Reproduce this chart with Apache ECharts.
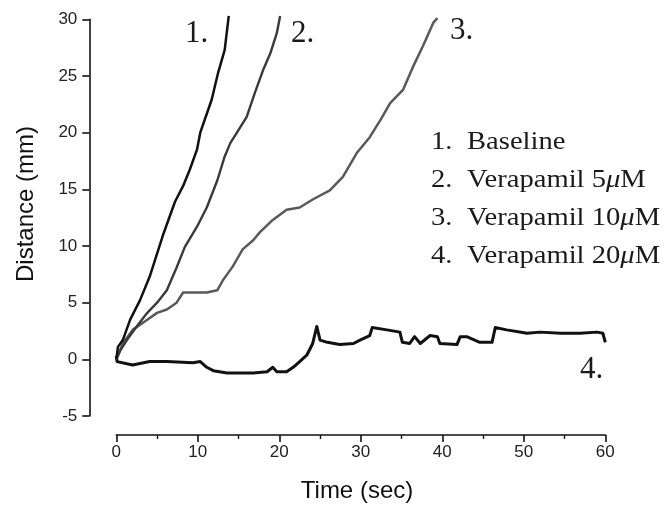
<!DOCTYPE html>
<html>
<head>
<meta charset="utf-8">
<script src="https://cdn.jsdelivr.net/npm/echarts@6/dist/echarts.min.js"></script>
<style>
html,body{margin:0;padding:0;background:#fff;}
#chart{width:668px;height:508px;}
</style>
</head>
<body>
<div id="chart"></div>
<script>
// ---- data ----
var xTicks = [0, 10, 20, 30, 40, 50, 60];
var yTicks = [-5, 0, 5, 10, 15, 20, 25, 30];

var seriesNames = ['Baseline', 'Verapamil 5\u03bcM', 'Verapamil 10\u03bcM', 'Verapamil 20\u03bcM'];
var curveTags = ['1.', '2.', '3.', '4.'];

// 1. Baseline
var t1 = [0, 0.2, 0.8, 1.7, 2.9, 4.1, 5.7, 7.2, 8.2, 9.0, 9.9, 10.3, 11.7, 12.5, 13.3, 13.8];
var d1 = [0, 1.1, 1.7, 3.5, 5.2, 7.3, 10.9, 13.9, 15.3, 16.7, 18.5, 20.0, 22.9, 25.3, 27.3, 30.3];

// 2. Verapamil 5uM
var t2 = [0, 0.5, 1.3, 2.5, 3.8, 5.0, 6.2, 7.4, 8.4, 9.9, 11.1, 12.4, 13.3, 14.0, 14.8, 16.0, 17.0, 18.0, 18.9, 19.7, 20.1];
var d2 = [0, 0.8, 1.7, 2.9, 4.1, 5.0, 6.1, 8.1, 9.9, 11.7, 13.4, 15.8, 17.9, 19.1, 20.0, 21.4, 23.5, 25.5, 27.0, 28.8, 30.3];

// 3. Verapamil 10uM
var t3 = [0, 0.8, 2.0, 3.8, 5.0, 6.2, 7.4, 8.2, 9.4, 11.1, 12.4, 13.1, 14.3, 15.5, 16.8, 17.6, 19.2, 20.9, 22.5, 24.1, 26.2, 27.8, 29.5, 31.1, 32.4, 33.6, 35.2, 36.4, 37.6, 38.9, 39.4];
var d3 = [0, 1.4, 2.6, 3.5, 4.1, 4.4, 5.0, 5.9, 5.9, 5.9, 6.1, 7.0, 8.2, 9.7, 10.5, 11.2, 12.3, 13.2, 13.4, 14.1, 14.9, 16.1, 18.2, 19.6, 21.1, 22.6, 23.8, 25.8, 27.6, 29.7, 30.1];

// 4. Verapamil 20uM
var t4 = [0, 0.1, 2.0, 4.1, 6.2, 9.4, 10.3, 11.1, 11.9, 13.6, 15.2, 16.8, 18.5, 19.2, 19.7, 20.9, 21.7, 22.5, 23.4, 24.1, 24.6, 25.0, 25.9, 27.4, 29.1, 29.9, 31.1, 31.4, 33.2, 34.8, 35.1, 36.0, 36.6, 37.3, 38.5, 39.4, 39.7, 41.8, 42.2, 43.0, 44.6, 46.1, 46.5, 47.9, 50.4, 52.0, 54.5, 56.9, 59.0, 59.7, 60.0];
var d4 = [0.3, -0.2, -0.5, -0.2, -0.2, -0.3, -0.2, -0.7, -1.0, -1.2, -1.2, -1.2, -1.1, -0.7, -1.1, -1.1, -0.7, -0.2, 0.4, 1.4, 2.9, 1.7, 1.5, 1.3, 1.4, 1.7, 2.1, 2.8, 2.6, 2.4, 1.5, 1.4, 2.0, 1.4, 2.1, 2.0, 1.4, 1.3, 2.0, 2.0, 1.5, 1.5, 2.8, 2.6, 2.3, 2.4, 2.3, 2.3, 2.4, 2.3, 1.5];

// ---- build chart ----
function pairs(t, d) { return t.map(function (v, i) { return [v, d[i]]; }); }
var allT = [t1, t2, t3, t4];
var allD = [d1, d2, d3, d4];
var lineColors = ['#111111', '#3a3a3a', '#595959', '#111111'];
var lineWidths = [2.5, 2.4, 2.5, 3];

var chart = echarts.init(document.getElementById('chart'), null, { renderer: 'canvas' });

var sansFont = '"Liberation Sans", Arial, sans-serif';
var serifFont = '"Liberation Serif", "Times New Roman", serif';

var series = allT.map(function (t, i) {
  return {
    name: seriesNames[i],
    type: 'line',
    data: pairs(t, allD[i]),
    showSymbol: false,
    clip: false,
    animation: false,
    lineStyle: { color: lineColors[i], width: lineWidths[i], join: 'round' },
    z: 4 - i
  };
});

var graphics = [];
// curve tags (positions given as text centers)
var tagPos = [[185, 33.5], [291, 33.5], [450, 30.5], [580, 370]];
curveTags.forEach(function (s, i) {
  graphics.push({
    type: 'text', x: tagPos[i][0], y: tagPos[i][1], silent: true,
    style: { text: s, font: '31px ' + serifFont, fill: '#1a1a1a', verticalAlign: 'middle' }
  });
});
// legend
var legY = [142, 180.5, 218.5, 256];
seriesNames.forEach(function (name, i) {
  graphics.push({
    type: 'text', x: 431, y: legY[i], scaleX: 1.1, silent: true,
    style: { text: (i + 1) + '.', font: '26px ' + serifFont, fill: '#1a1a1a', verticalAlign: 'middle' }
  });
  var rt = name.replace('\u03bc', '{mu|\u03bc}');
  graphics.push({
    type: 'text', x: 467, y: legY[i], scaleX: 1.1, silent: true,
    style: {
      text: rt, font: '26px ' + serifFont, fill: '#1a1a1a', verticalAlign: 'middle',
      rich: { mu: { font: 'italic 26px ' + serifFont, fill: '#1a1a1a' } }
    }
  });
});
// axis titles
graphics.push({
  type: 'text', x: 26, y: 204, rotation: Math.PI / 2, silent: true,
  style: { text: 'Distance (mm)', font: '24px ' + sansFont, fill: '#111', align: 'center', verticalAlign: 'middle' }
});
graphics.push({
  type: 'text', x: 357, y: 491, silent: true,
  style: { text: 'Time (sec)', font: '24px ' + sansFont, fill: '#111', align: 'center', verticalAlign: 'middle' }
});

var option = {
  backgroundColor: '#ffffff',
  animation: false,
  grid: { left: 116.3, right: 62.7, top: 19.3, bottom: 92, containLabel: false },
  xAxis: {
    type: 'value', min: xTicks[0], max: xTicks[xTicks.length - 1], interval: 10,
    offset: 19,
    axisLine: { show: true, onZero: false, lineStyle: { color: '#111', width: 1.6 } },
    axisTick: { show: true, inside: false, length: 7, lineStyle: { color: '#111', width: 1.6 } },
    minorTick: { show: true, splitNumber: 2, length: 4, lineStyle: { color: '#111', width: 1.4 } },
    splitLine: { show: false },
    axisLabel: { margin: 9, fontSize: 17, fontFamily: sansFont, color: '#222' }
  },
  yAxis: {
    type: 'value', min: yTicks[0], max: yTicks[yTicks.length - 1], interval: 5,
    offset: 27,
    axisLine: { show: true, onZero: false, lineStyle: { color: '#111', width: 1.6 } },
    axisTick: { show: true, inside: false, length: 7, lineStyle: { color: '#111', width: 1.6 } },
    splitLine: { show: false },
    axisLabel: { margin: 12, fontSize: 17, fontFamily: sansFont, color: '#222' }
  },
  series: series,
  graphic: graphics
};
chart.setOption(option);
</script>
</body>
</html>
